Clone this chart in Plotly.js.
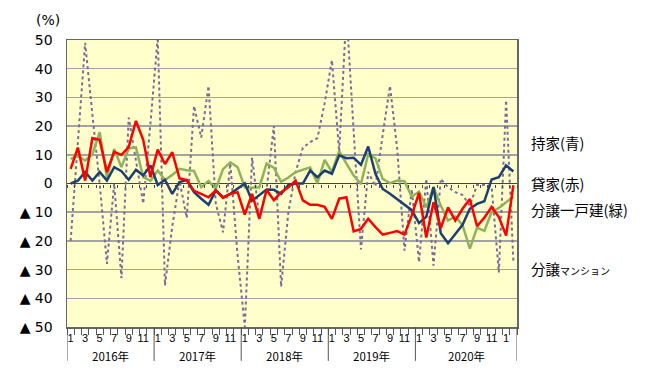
<!DOCTYPE html>
<html><head><meta charset="utf-8">
<script src="https://cdn.plot.ly/plotly-3.0.1.min.js"></script>
<style>html,body{margin:0;padding:0;background:#fff;}#chart{width:650px;height:385px;}</style>
</head><body><div id="chart"></div>
<script>
// Months: Jan 2016 .. Feb 2021 (index 0..61)
const months = ['1','2','3','4','5','6','7','8','9','10','11','12',
 '1','2','3','4','5','6','7','8','9','10','11','12',
 '1','2','3','4','5','6','7','8','9','10','11','12',
 '1','2','3','4','5','6','7','8','9','10','11','12',
 '1','2','3','4','5','6','7','8','9','10','11','12',
 '1','2'];
const years = ['2016年','2017年','2018年','2019年','2020年'];
const yearStart = [0,12,24,36,48];
const yearEnd   = [11,23,35,47,61];

// 持家（青）
const mochiie = [0,1,4,1,4,1,5.7,4.3,1.3,4.8,2.8,6.3,
 -0.5,1.3,-3.6,0.5,1.2,-3,-5.3,-7.4,-2.4,-4.8,-3.6,-1.9,
 0,-6,-4.2,-2.1,-2.2,-3.6,-0.5,0,0,4.5,2.2,4.5,
 3.4,9.8,8.8,9,6.5,12.9,3.4,-1.9,-3.6,-5.6,-7.4,-9.3,
 -13.8,-11.6,-1.2,-17.3,-20.8,-17.6,-14.4,-8.8,-7.1,-6.2,1.4,2.2,6.3,4.2];
// 貸家（赤）
const kashiya = [5.1,12.5,1,15.8,15.2,4,11,10,12.7,21.8,15.2,2.2,
 11.8,6.8,10.9,1.8,1.2,-2.6,-3.6,-4.8,-2.4,-5,-3.6,-3,
 -10.8,-3.6,-12.3,-2.2,-5.8,-3,-1.3,1,-5.9,-7.4,-7.4,-8.1,
 -12.3,-5.3,-4.8,-16.7,-15.8,-12.3,-15.2,-17.8,-17.2,-16.6,-17.8,-11.1,
 -3.3,-18.8,-6.5,-15.5,-8.3,-12.9,-8.8,-5.4,-14.9,-11.9,-8.2,-11.7,-18.1,-0.6];
// 分譲一戸建（緑）
const bunjoKodate = [8.6,9.6,8,10.2,17.9,2,12,5.7,12.2,12.6,2.2,0.9,
 4.5,1.2,3,5.1,4.6,4.4,-1.3,0.9,-1.9,5,7.4,5.7,
 -1.3,-1.5,-1.3,6.9,5.5,0.6,2.1,4,4.8,5.6,0.1,8.2,
 4,11.3,6.9,2.8,-0.2,10.2,8.8,1.6,0.1,1,0.8,-4.6,
 -2.8,-8.3,-1.3,-7.7,-12.9,-11.5,-14.5,-22.7,-15.4,-16.5,-10,-8.5,-6.5,-4.6];
// 分譲マンション
const bunjoMansion = [-20,14,49,24,0,-28,0,-33,23,8,-7,21,
 51,-35.5,-15,1,-12,27,16,34,-7,-17,7,-25,
 -50,9,-12,-2,20,-36,-10,4,12.5,14.4,15.8,28,
 43,11,60,18,-23,4,-1,17,34,12,-23.4,-2,
 -27.4,1.6,-28.6,1.6,-1.3,-3,-4,-7.7,-0.5,-0.5,-1,-31,29,-27];

const idx = months.map((m,i)=>i);
const labelIdx = idx.filter(i=>['1','3','5','7','9','11'].includes(months[i]));
const labelTxt = labelIdx.map(i=>months[i]);
const bounds = idx.concat([idx.length]).map(i=>i-0.5);
const yTicks = [-50,-40,-30,-20,-10,0,10,20,30,40,50];
const yText = yTicks.map(v=> v<0 ? '▲ '+Math.abs(v) : String(v));

const traces = [
 {x:idx, y:bunjoMansion, name:'分譲マンション', mode:'lines', line:{color:'#7b6b98', width:2, dash:'dot'}},
 {x:idx, y:bunjoKodate, name:'分譲一戸建（緑）', mode:'lines', line:{color:'#8fb25a', width:2.5}},
 {x:idx, y:mochiie, name:'持家（青）', mode:'lines', line:{color:'#1d3f72', width:2.5}},
 {x:idx, y:kashiya, name:'貸家（赤）', mode:'lines', line:{color:'#ff0000', width:2.5}},
 {x:[], y:[], xaxis:'x2', yaxis:'y', showlegend:false, hoverinfo:'skip'},
 {x:[], y:[], xaxis:'x3', yaxis:'y', showlegend:false, hoverinfo:'skip'}
];

const shapes = yearStart.map((s,k)=>({type:'line', xref:'x', yref:'paper', x0:s-0.5, x1:s-0.5, y0:0, y1:-0.118, line:{color:'#555', width:1}}));
shapes.push({type:'line', xref:'x', yref:'paper', x0:yearEnd[4]+0.5, x1:yearEnd[4]+0.5, y0:0, y1:-0.118, line:{color:'#555', width:1}});

const annotations = years.map((t,k)=>({text:t, xref:'x', yref:'paper', x:(yearStart[k]+yearEnd[k])/2, y:-0.1, showarrow:false, xanchor:'center', yanchor:'middle', font:{family:'Noto Sans CJK JP', size:11.5, color:'#000'}}));
annotations.push({text:'(%)', xref:'paper', yref:'paper', x:-0.042, y:1.07, showarrow:false, xanchor:'center', yanchor:'middle', font:{family:'DejaVu Sans', size:14, color:'#000'}});
const legendItems = [
 {t:'持家(青)', y:14.3},
 {t:'貸家(赤)', y:0},
 {t:'分譲一戸建(緑)', y:-9.2},
 {t:'分譲<span style="font-size:10px">マンション</span>', y:-29.6}
];
legendItems.forEach(o=>annotations.push({text:o.t, xref:'paper', yref:'y', x:1.026, y:o.y, showarrow:false, xanchor:'left', yanchor:'middle', font:{family:'Noto Sans CJK JP', size:14.5, color:'#000'}}));

const layout = {
 width:650, height:385,
 margin:{l:67, r:133, t:40, b:58},
 paper_bgcolor:'#ffffff', plot_bgcolor:'#ffffcc',
 showlegend:false,
 xaxis:{range:[-0.5,61.5], tickmode:'array', tickvals:labelIdx, ticktext:labelTxt, ticks:'', showgrid:false, zeroline:false,
   showline:true, mirror:true, linecolor:'#666', linewidth:1.5, tickfont:{family:'Liberation Sans', size:11, color:'#000'}, ticklabelstandoff:0},
 xaxis2:{overlaying:'x', matches:'x', anchor:'y', side:'bottom', tickmode:'array', tickvals:bounds, ticks:'outside', ticklen:7, tickcolor:'#555', tickwidth:1, showticklabels:false, showgrid:false, zeroline:false, showline:false},
 xaxis3:{overlaying:'x', matches:'x', anchor:'free', position:0.5, side:'bottom', tickmode:'array', tickvals:bounds, ticks:'outside', ticklen:3, tickcolor:'#444', tickwidth:1, showticklabels:false, showgrid:false, zeroline:false, showline:false},
 yaxis:{range:[-50,50], tickmode:'array', tickvals:yTicks, ticktext:yText, showgrid:true, gridcolor:'#a3a3a3', gridwidth:1.5,
   zeroline:true, zerolinecolor:'#444', zerolinewidth:1.2, showline:true, mirror:true, linecolor:'#666', linewidth:1.5, ticks:'',
   tickfont:{family:'DejaVu Sans', size:14, color:'#000'}, ticklabelstandoff:10},
 shapes:shapes,
 annotations:annotations
};
Plotly.newPlot('chart', traces, layout, {displayModeBar:false, staticPlot:true});
</script></body></html>
